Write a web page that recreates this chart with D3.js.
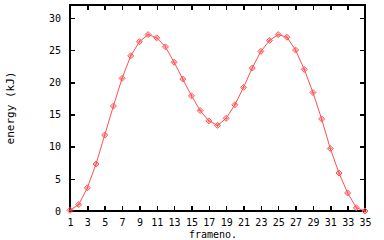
<!DOCTYPE html>
<html>
<head>
<meta charset="utf-8">
<script src="https://cdn.jsdelivr.net/npm/d3@7"></script>
<style>
  body { margin: 0; background: #fff; }
  svg { display: block; }
  text { font-family: "DejaVu Sans Mono", monospace; font-size: 10px; fill: #000; }
</style>
</head>
<body>
<div id="chart"></div>
<script>
// energy per frame
const frames = d3.range(1, 36);
const energy = [0.1, 1.0, 3.6, 7.3, 11.8, 16.3, 20.6, 24.1, 26.3, 27.4, 26.9, 25.5,
  23.1, 20.5, 17.9, 15.6, 14.0, 13.3, 14.4, 16.5, 19.2, 22.2, 24.8, 26.5, 27.4,
  27.0, 25.0, 22.0, 18.4, 14.3, 9.7, 5.9, 2.8, 0.5, 0.0];
const xTicks = d3.range(1, 36, 2);
const yTicks = [0, 5, 10, 15, 20, 25, 30];

const width = 384, height = 240;
const margin = { top: 5, right: 19, bottom: 29, left: 70 };
const lineColor = "#ff5050";

const svg = d3.select("#chart").append("svg")
  .attr("width", width)
  .attr("height", height);

const x = d3.scaleLinear().domain([1, 35]).range([margin.left, width - margin.right]);
const y = d3.scaleLinear().domain([0, 32]).range([height - margin.bottom, margin.top]);

// axes, ticks pointing inward
const tick = 5;
const axes = svg.append("g").attr("shape-rendering", "crispEdges");

axes.append("g")
  .attr("transform", `translate(0,${y(0)})`)
  .call(d3.axisBottom(x).tickValues(xTicks).tickSizeInner(-tick).tickSizeOuter(0).tickPadding(10))
  .call(g => g.selectAll("text").attr("dy", "0.5em"));

axes.append("g")
  .attr("transform", `translate(0,${margin.top})`)
  .call(d3.axisTop(x).tickValues(xTicks).tickSizeInner(-tick).tickSizeOuter(0).tickFormat(""));

axes.append("g")
  .attr("transform", `translate(${margin.left},0)`)
  .call(d3.axisLeft(y).tickValues(yTicks).tickSizeInner(-tick).tickSizeOuter(0).tickPadding(9));

axes.append("g")
  .attr("transform", `translate(${width - margin.right},0)`)
  .call(d3.axisRight(y).tickValues(yTicks).tickSizeInner(-tick).tickSizeOuter(0).tickFormat(""));

axes.selectAll(".domain, .tick line").attr("stroke", "#000").attr("stroke-width", 1.5);
axes.selectAll(".tick text").style("font-family", "DejaVu Sans Mono, monospace").style("font-size", "10px");

// frame of the plot area
axes.append("rect")
  .attr("x", x(1)).attr("y", margin.top)
  .attr("width", x(35) - x(1)).attr("height", y(0) - margin.top)
  .attr("fill", "none").attr("stroke", "#000").attr("stroke-width", 1.5);

// line
const pts = frames.map((f, i) => [f, energy[i]]);
svg.append("path")
  .datum(pts)
  .attr("fill", "none")
  .attr("stroke", lineColor)
  .attr("stroke-width", 1)
  .attr("d", d3.line().x(d => x(d[0])).y(d => y(d[1])));

// diamond markers with crosshair
const mk = svg.append("g").selectAll("g").data(pts).join("g")
  .attr("transform", d => `translate(${x(d[0])},${y(d[1])})`);
mk.append("path")
  .attr("d", "M0,-3L3,0L0,3L-3,0Z")
  .attr("fill", "none")
  .attr("stroke", lineColor)
  .attr("stroke-width", 1);
mk.append("path")
  .attr("d", "M-2,0H2M0,-2V2")
  .attr("stroke", lineColor)
  .attr("stroke-width", 0.8);

// axis labels
svg.append("text")
  .attr("x", 213).attr("y", 238)
  .attr("text-anchor", "middle")
  .text("frameno.");

svg.append("text")
  .attr("transform", `translate(14,${(margin.top + y(0)) / 2}) rotate(-90)`)
  .attr("text-anchor", "middle")
  .style("font-size", "11px")
  .text("energy (kJ)");
</script>
</body>
</html>
